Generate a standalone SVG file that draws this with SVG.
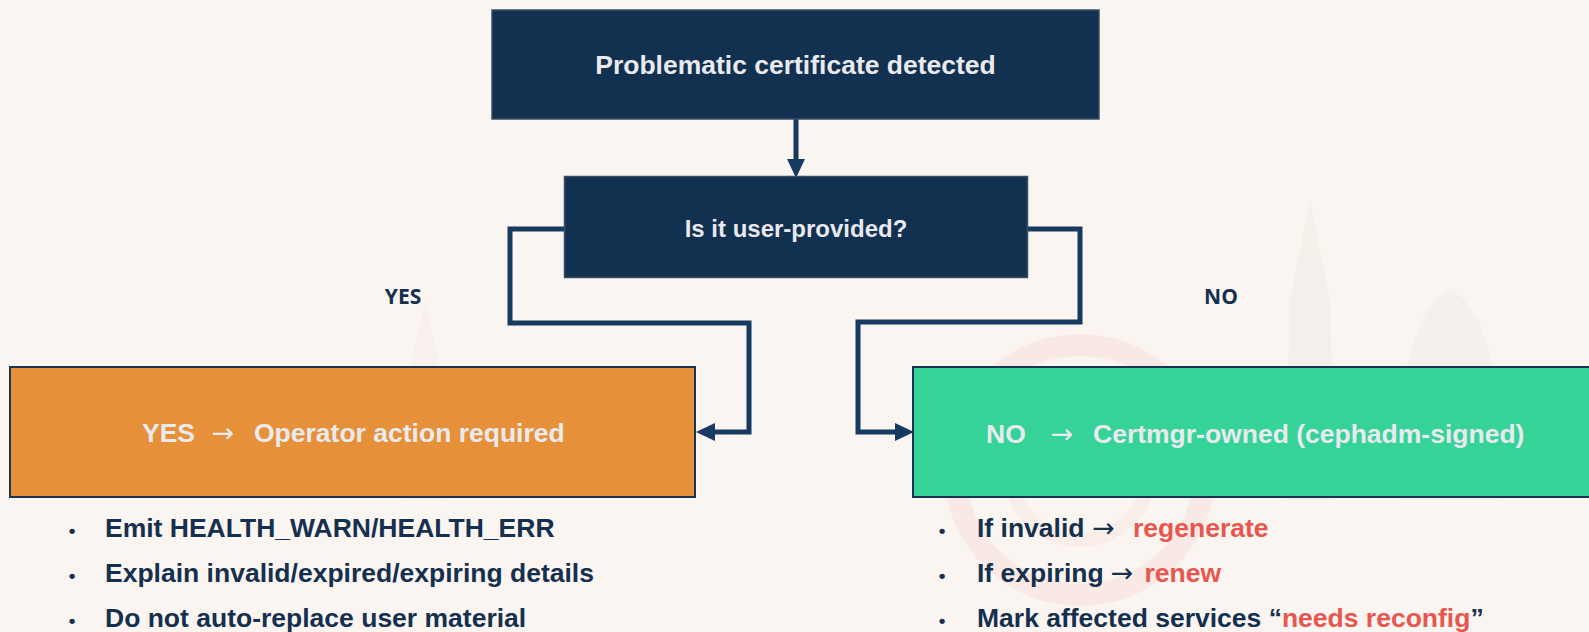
<svg xmlns="http://www.w3.org/2000/svg" width="1589" height="632" viewBox="0 0 1589 632">
<style>
.bx{font-family:"Liberation Sans",Arial,sans-serif;font-weight:bold;fill:#e9e9ee}
.bl{font-family:"Liberation Sans",Arial,sans-serif;font-weight:bold;font-size:26.5px;fill:#15304f}
.dot{font-family:"Liberation Sans",Arial,sans-serif;font-weight:bold;font-size:19px;fill:#15304f}
.arr{font-family:"DejaVu Sans",sans-serif;font-weight:normal;font-size:27px}
.red{fill:#e8564f}
.lab{font-family:"Open Sans",sans-serif;font-weight:bold;font-size:21px;fill:#14304f}
.dark{fill:#12304f;stroke:#3b4d63;stroke-width:1.5}
.conn{fill:none;stroke:#163a60;stroke-width:5;stroke-linejoin:miter}
</style>
<defs>
<marker id="ah" markerUnits="userSpaceOnUse" markerWidth="19" markerHeight="18" viewBox="0 0 19 18" refX="0" refY="9" orient="auto">
<path d="M0,0 L19,9 L0,18 z" fill="#163a60"/>
</marker>
</defs>
<rect x="0" y="0" width="1589" height="632" fill="#fbf5f1"/>
<g id="watermark" opacity="0.5">
<circle cx="1080" cy="470" r="125" fill="none" stroke="#f8dfd8" stroke-width="22"/>
<circle cx="1080" cy="470" r="70" fill="none" stroke="#f9e6e0" stroke-width="14"/>
<path d="M1290,300 L1300,250 L1310,200 L1320,250 L1330,300 L1335,500 L1285,500 Z" fill="#f1ebe6"/>
<path d="M1400,500 C1390,380 1420,300 1450,290 C1480,300 1510,380 1500,500 Z" fill="#f3ede8"/>
<path d="M410,370 L425,300 L440,370 L445,500 L405,500 Z" fill="#f3ece7"/>
</g>
<g id="connectors">
<path class="conn" d="M796,119 V159" marker-end="url(#ah)"/>
<path class="conn" d="M564,229 H510 V323 H749 V432 H715" marker-end="url(#ah)"/>
<path class="conn" d="M1028,229 H1080 V322 H858 V432 H895" marker-end="url(#ah)"/>
</g>
<g id="n_problem">
<rect class="dark" x="492" y="10" width="607" height="109"/>
<text class="bx" x="795.5" y="73.5" font-size="26.5" text-anchor="middle">Problematic certificate detected</text>
</g>
<g id="n_decision">
<rect class="dark" x="564.5" y="176.5" width="463" height="101"/>
<text class="bx" x="796" y="237" font-size="24" text-anchor="middle">Is it user-provided?</text>
</g>
<g id="l_yes"><text class="lab" x="403" y="304" text-anchor="middle">YES</text></g>
<g id="l_no"><text class="lab" x="1221" y="304" text-anchor="middle">NO</text></g>
<g id="n_operator">
<rect x="10" y="367" width="685" height="130" fill="#e6913a" stroke="#1a3352" stroke-width="2"/>
<text class="bx" y="442" font-size="26.5"><tspan x="142">YES</tspan><tspan x="223" class="arr" text-anchor="middle">→</tspan><tspan x="254">Operator action required</tspan></text>
</g>
<g id="n_certmgr">
<rect x="913" y="367" width="680" height="130" fill="#36d399" stroke="#1a3352" stroke-width="2"/>
<text class="bx" y="443" font-size="26.5"><tspan x="986">NO</tspan><tspan x="1062" class="arr" text-anchor="middle">→</tspan><tspan x="1093">Certmgr-owned (cephadm-signed)</tspan></text>
</g>
<g id="list_yes">
<text class="dot" x="72" y="537" text-anchor="middle">•</text>
<text class="bl" x="105" y="537">Emit HEALTH_WARN/HEALTH_ERR</text>
<text class="dot" x="72" y="582" text-anchor="middle">•</text>
<text class="bl" x="105" y="582">Explain invalid/expired/expiring details</text>
<text class="dot" x="72" y="627" text-anchor="middle">•</text>
<text class="bl" x="105" y="627">Do not auto-replace user material</text>
</g>
<g id="list_no">
<text class="dot" x="942" y="537" text-anchor="middle">•</text>
<text class="bl" y="537"><tspan x="977">If invalid</tspan><tspan x="1103.5" class="arr" text-anchor="middle">→</tspan><tspan x="1133" class="red">regenerate</tspan></text>
<text class="dot" x="942" y="582" text-anchor="middle">•</text>
<text class="bl" y="582"><tspan x="977">If expiring</tspan><tspan x="1122" class="arr" text-anchor="middle">→</tspan><tspan x="1144.5" class="red">renew</tspan></text>
<text class="dot" x="942" y="627" text-anchor="middle">•</text>
<text class="bl" x="977" y="627">Mark affected services “<tspan class="red">needs reconfig</tspan>”</text>
</g>
</svg>
